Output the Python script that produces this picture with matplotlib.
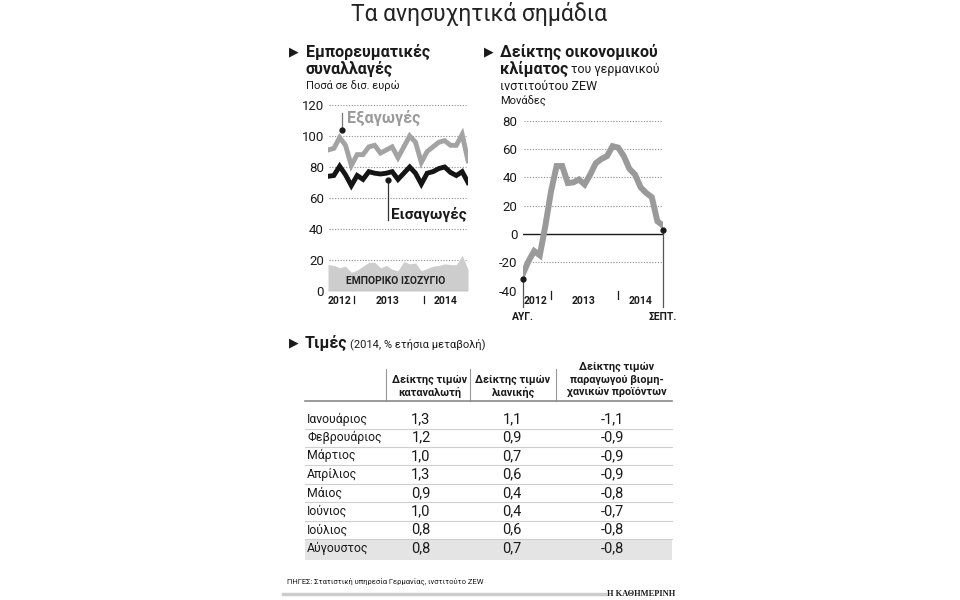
import matplotlib
matplotlib.use('Agg')
import matplotlib.pyplot as plt
from matplotlib import font_manager
from matplotlib.lines import Line2D
from matplotlib.patches import Rectangle

names = {f.name for f in font_manager.fontManager.ttflist}
NARROW = 'Liberation Sans Narrow' if 'Liberation Sans Narrow' in names else 'Roboto'
plt.rcParams['font.family'] = [NARROW, 'DejaVu Sans']

# ---------------- data ----------------
trade_idx = list(range(25))          # monthly, Aug 2012 .. Aug 2014
exports = [91, 92, 99, 94, 81, 88, 88, 93, 94, 89, 91, 93, 86, 93, 100, 96, 83,
           90, 93, 96, 97, 94, 94, 101, 84]
imports = [74, 74.5, 80.5, 75, 68, 74.5, 72, 77, 76, 75.5, 76, 77, 72, 76, 80, 76,
           69, 76, 77, 79, 80, 76.5, 74.5, 77, 70]
balance = [17, 16.5, 15, 16, 12, 13.5, 16, 18.5, 18.5, 15, 16.5, 14, 13, 19, 17.5,
           18, 13, 14.5, 16, 16.5, 17.5, 17, 17, 23, 14]
trade_years = ['2012', '2013', '2014']
trade_year_seps = [4.5, 16.5]

zew_idx = list(range(26))            # monthly, Aug 2012 .. Sep 2014
zew = [-28, -19, -12, -15, 6, 30, 48, 48, 36, 36.5, 38.5, 35, 42, 50, 53, 55, 62,
       61, 55, 46, 42, 33, 29, 26, 9, 6]
zew_years = ['2012', '2013', '2014']
zew_year_seps = [5, 17]

months = ['Ιανουάριος', 'Φεβρουάριος', 'Μάρτιος', 'Απρίλιος', 'Μάιος',
          'Ιούνιος', 'Ιούλιος', 'Αύγουστος']
cpi = ['1,3', '1,2', '1,0', '1,3', '0,9', '1,0', '0,8', '0,8']
retail = ['1,1', '0,9', '0,7', '0,6', '0,4', '0,4', '0,6', '0,7']
ppi = ['-1,1', '-0,9', '-0,9', '-0,9', '-0,8', '-0,7', '-0,8', '-0,8']
col_headers = ['Δείκτης τιμών\nκαταναλωτή', 'Δείκτης τιμών\nλιανικής',
               'Δείκτης τιμών\nπαραγωγού βιομη-\nχανικών προϊόντων']

# layout constants (pixel / index positions of decorations)
trade_year_label_x = [1.9, 10.2, 20.2]
zew_year_label_x = [2.2, 10.9, 21.0]

TXT = '#1a1a1a'

fig = plt.figure(figsize=(9.6, 6), dpi=100)
fig.patch.set_facecolor('white')

# background overlay in pixel coordinates
bg = fig.add_axes([0, 0, 1, 1], zorder=0)
bg.set_xlim(0, 960)
bg.set_ylim(600, 0)
bg.axis('off')

TRI = dict(family=['DejaVu Sans'], fontsize=9, color=TXT, va='center', ha='left')

# main title
bg.text(479, 14, 'Τα ανησυχητικά σημάδια', fontsize=16.5, color='#222222', ha='center',
        va='center')

# left chart titles
bg.text(289, 52, '▶', **TRI)
bg.text(306, 52, 'Εμπορευματικές', fontsize=11.5, fontweight='bold', color=TXT, va='center')
bg.text(306, 69, 'συναλλαγές', fontsize=11.5, fontweight='bold', color=TXT, va='center')
bg.text(306, 86, 'Ποσά σε δισ. ευρώ', fontsize=8, color=TXT, va='center')

# right chart titles
bg.text(484, 52, '▶', **TRI)
bg.text(500, 52, 'Δείκτης οικονομικού', fontsize=11.5, fontweight='bold', color=TXT, va='center')
kl = bg.text(500, 69, 'κλίματος', fontsize=11.5, fontweight='bold', color=TXT, va='center')
fig.canvas.draw()
bb = kl.get_window_extent(renderer=fig.canvas.get_renderer())
bg.text(bb.x1 + 3, 69.5, 'του γερμανικού', fontsize=9, color=TXT, va='center')
bg.text(500, 86, 'ινστιτούτου ZEW', fontsize=9, color=TXT, va='center')
bg.text(500, 101, 'Μονάδες', fontsize=8, color=TXT, va='center')

# ---------------- left chart ----------------
ax1 = fig.add_axes([328 / 960, (600 - 291) / 600, 140 / 960, 186 / 600], zorder=2)
ax1.patch.set_alpha(0)
ax1.set_xlim(0, 24)
ax1.set_ylim(0, 120)
for s in ax1.spines.values():
    s.set_visible(False)
for yv in [20, 40, 60, 80, 100, 120]:
    ax1.axhline(yv, xmin=0.01, xmax=0.985, color='#8a8a8a', lw=0.8,
                ls=(0, (1, 1.5)), zorder=0)
ax1.fill_between(trade_idx, 0, balance, color='#cdcdcd', lw=0, zorder=1)
ax1.axhline(0, color='#555555', lw=0.8, zorder=2)
ax1.plot(trade_idx, exports, color='#a3a3a3', lw=3.5, solid_joinstyle='miter', zorder=3)
ax1.plot(trade_idx, imports, color='#151515', lw=3.5, solid_joinstyle='miter', zorder=4)
ax1.set_yticks([0, 20, 40, 60, 80, 100, 120])
ax1.set_yticklabels(['0', '20', '40', '60', '80', '100', '120'])
ax1.tick_params(axis='y', length=0, pad=3, labelsize=9.5, labelcolor=TXT)
ax1.set_xticks([])
# exports / imports pointers
ax1.plot([2.4, 2.4], [104, 115], color='#777777', lw=0.9, clip_on=False, zorder=5)
ax1.plot([2.4], [104], 'o', color=TXT, ms=3.5, clip_on=False, zorder=6)
ax1.text(3.2, 111.5, 'Εξαγωγές', fontsize=11.5, fontweight='bold', color='#9a9a9a',
         va='center', ha='left')
ax1.plot([10.3, 10.3], [71.5, 46], color='#333333', lw=0.9, clip_on=False, zorder=5)
ax1.plot([10.3], [71.5], 'o', color=TXT, ms=3.5, clip_on=False, zorder=6)
ax1.text(10.8, 49.5, 'Εισαγωγές', fontsize=11, fontweight='bold', color=TXT,
         va='center', ha='left')
ax1.text(11.6, 6.5, 'ΕΜΠΟΡΙΚΟ ΙΣΟΖΥΓΙΟ', fontsize=7.5, fontweight='bold',
         color='#222222', ha='center', va='center', zorder=5)
# year labels / separators
for xl, yr in zip(trade_year_label_x, trade_years):
    ax1.text(xl, -6.2, yr, fontsize=7.5, fontweight='bold', color=TXT,
             ha='center', va='center', clip_on=False)
for b in trade_year_seps:
    ax1.plot([b, b], [-3.5, -8], color=TXT, lw=0.9, clip_on=False)

# ---------------- right chart ----------------
ax2 = fig.add_axes([523 / 960, (600 - 290.7) / 600, 140 / 960, 170 / 600], zorder=2)
ax2.patch.set_alpha(0)
ax2.set_xlim(0, 25)
ax2.set_ylim(-40, 80)
for s in ax2.spines.values():
    s.set_visible(False)
for yv in [-20, 20, 40, 60, 80]:
    ax2.axhline(yv, xmin=0.01, xmax=1.0, color='#8a8a8a', lw=0.8,
                ls=(0, (1, 1.5)), zorder=0)
ax2.axhline(0, color=TXT, lw=1.0, zorder=1)
ax2.plot(zew_idx, zew, color='#9a9a9a', lw=4.3, solid_joinstyle='miter', zorder=3)
ax2.set_yticks([-40, -20, 0, 20, 40, 60, 80])
ax2.set_yticklabels(['-40', '-20', '0', '20', '40', '60', '80'])
ax2.tick_params(axis='y', length=0, pad=4, labelsize=9.5, labelcolor=TXT)
ax2.set_xticks([])
# start / end pointers
ax2.plot([0, 0], [-32, -51.5], color='#555555', lw=0.9, clip_on=False, zorder=4)
ax2.plot([0], [-32], 'o', color=TXT, ms=3.5, clip_on=False, zorder=5)
ax2.plot([25, 25], [3, -51.5], color='#555555', lw=0.9, clip_on=False, zorder=4)
ax2.plot([25], [3], 'o', color=TXT, ms=3.5, clip_on=False, zorder=5)
ax2.text(0, -58.5, 'ΑΥΓ.', fontsize=7.5, fontweight='bold', color=TXT,
         ha='center', va='center', clip_on=False)
ax2.text(25, -58.5, 'ΣΕΠΤ.', fontsize=7.5, fontweight='bold', color=TXT,
         ha='center', va='center', clip_on=False)
for xl, yr in zip(zew_year_label_x, zew_years):
    ax2.text(xl, -47.5, yr, fontsize=7.5, fontweight='bold', color=TXT,
             ha='center', va='center', clip_on=False)
for b in zew_year_seps:
    ax2.plot([b, b], [-40.5, -46], color=TXT, lw=0.9, clip_on=False)

# ---------------- table ----------------
bg.text(289, 343, '▶', **TRI)
tm = bg.text(305, 343, 'Τιμές', fontsize=11.5, fontweight='bold', color=TXT, va='center')
fig.canvas.draw()
bb2 = tm.get_window_extent(renderer=fig.canvas.get_renderer())
bg.text(bb2.x1 + 3, 344, '(2014, % ετήσια μεταβολή)', fontsize=8, color=TXT, va='center')

col_x = [430, 513, 617]
val_x = [421, 512, 612]
for cx, h in zip(col_x, col_headers):
    nl = h.count('\n') + 1
    top = 392 - (nl - 1) * 12.5
    for k, line in enumerate(h.split('\n')):
        bg.text(cx, top + k * 12.5, line, fontsize=7.8, fontweight='bold', color=TXT,
                ha='center', va='center')
for vx in [386, 470, 556]:
    bg.add_line(Line2D([vx, vx], [369, 401], color='#999999', lw=0.8))
bg.add_line(Line2D([305, 672], [401, 401], color='#8a8a8a', lw=1.2))

row0 = 419
dy = 18.45
bg.add_patch(Rectangle((305, row0 + 7 * dy - 9.5), 367, 21.5, color='#e4e4e4', lw=0))
for i in range(len(months)):
    yc = row0 + i * dy
    bg.text(307, yc, months[i], fontsize=8.8, color=TXT, va='center', ha='left')
    bg.text(val_x[0], yc, cpi[i], fontsize=10.5, color=TXT, va='center', ha='center')
    bg.text(val_x[1], yc, retail[i], fontsize=10.5, color=TXT, va='center', ha='center')
    bg.text(val_x[2], yc, ppi[i], fontsize=10.5, color=TXT, va='center', ha='center')
    if i < len(months) - 1:
        bg.add_line(Line2D([305, 672], [yc + 9.5, yc + 9.5], color='#cfcfcf', lw=0.8))

# footer
bg.text(287, 581, 'ΠΗΓΕΣ: Στατιστική υπηρεσία Γερμανίας, ινστιτούτο ZEW',
        fontsize=5.5, color=TXT, va='center', ha='left')
bg.add_line(Line2D([283, 605], [594, 594], color='#cccccc', lw=2.5))
bg.text(675, 594, 'Η ΚΑΘΗΜΕΡΙΝΗ', fontsize=6, fontweight='bold', color=TXT,
        family=['Liberation Serif', 'DejaVu Serif'], va='center', ha='right')

fig.savefig('out.png', dpi=100, facecolor='white')
